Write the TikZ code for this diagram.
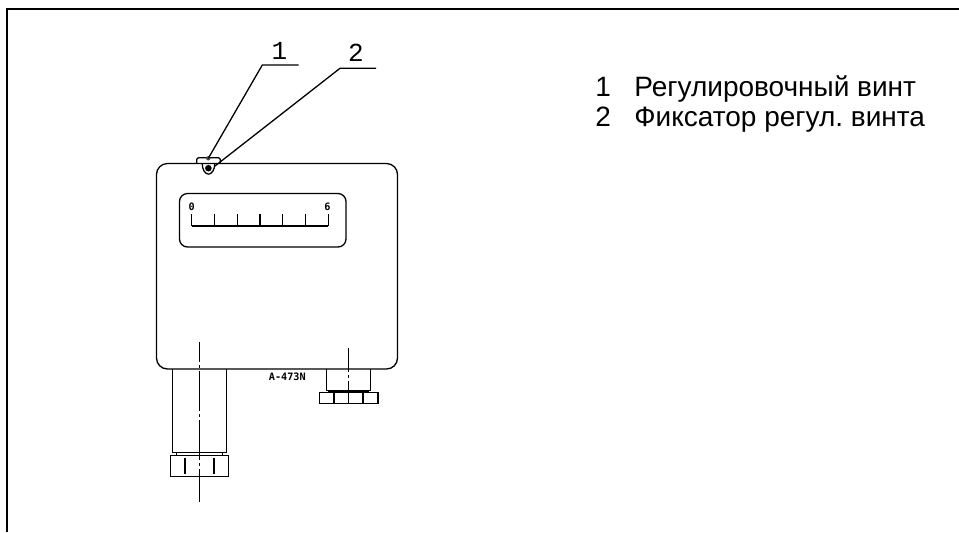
\documentclass[tikz,border=0pt]{standalone}
\usepackage{fontspec}
\setmainfont{Liberation Sans}
\newfontfamily\cadfont{Liberation Mono}
\newfontfamily\markfont{DejaVu Sans Mono}
\frenchspacing
\tikzset{
	part/.style={line width=0.65pt,color=black},
	axisline/.style={line width=0.6pt,color=black,dash pattern=on 20pt off 1.5pt on 1.5pt off 1.5pt},
	legendtext/.style={font=\fontsize{14}{16}\selectfont,anchor=base west,inner sep=0pt},
	leadertext/.style={font=\cadfont\fontsize{13}{15}\selectfont,anchor=base,inner sep=0pt},
	smalltext/.style={font=\markfont\bfseries\fontsize{5.1}{6}\selectfont,anchor=center,inner sep=0pt}
}
\begin{document}
\begin{tikzpicture}[x=0.5pt,y=-0.5pt]
	\useasboundingbox (0,0) rectangle (959,532);
	\draw[line width=1pt] (6.5,532) -- (6.5,8.5) -- (959,8.5);
	% body and window
	\draw[part,rounded corners=5.5pt] (156.5,163.5) rectangle (397.5,369);
	\draw[part,rounded corners=4pt] (179.5,193.5) rectangle (346,247);
	% scale
	\draw[line width=0.9pt] (191.7,226) -- (328.3,226);
	\foreach \x in {0,1,2,3,4,5,6}
	\draw[part,shift={(191.7+22.77*\x,0)}] (0,214) -- (0,226);
	\node[smalltext] (scalemin) at (191.8,207) {0};
	\node[smalltext] (scalemax) at (327.5,207) {6};
	% adjusting screw and clamp
	\draw[part,rounded corners=1pt] (196.7,163.5) -- (196.7,157.8) -- (220.3,157.8) -- (220.3,163.5);
	\draw[part] (202.2,163.5) arc (180:0:6.3 and 10.6);
	\fill (208.4,168.2) circle (3.3);
	\fill[black!70] (208.3,158.3) circle (2.2);
	% leaders
	\coordinate (screw) at (208.3,158.3);
	\coordinate (knee1) at (262.3,65);
	\coordinate (tail1) at (298.7,65);
	\coordinate (clamp) at (215,166);
	\coordinate (knee2) at (340,68.3);
	\coordinate (tail2) at (376,68.3);
	\draw[part] (screw) -- (knee1) -- (tail1);
	\draw[part] (clamp) -- (knee2) -- (tail2);
	\node[leadertext] (num1) at (279.3,59) {1};
	\node[leadertext] (num2) at (356,61) {2};
	% left fitting
	\draw[part] (172.7,369) -- (172.7,452.7) -- (226.3,452.7) -- (226.3,369);
	\draw[part] (170.3,455.3) rectangle (228.7,476.7);
	\foreach \x in {176.7,222.3}
	\draw[part] (\x,452.7) -- (\x,455.3);
	\foreach \x in {185,214}
	\draw[part] (\x,458) -- (\x,474);
	\draw[axisline,dash phase=10pt] (199.7,342.3) -- (199.7,502.3);
	% right fitting
	\draw[part] (326.3,369) -- (326.3,390.7) -- (370.7,390.7) -- (370.7,369);
	\draw[line width=1pt] (328,391.7) -- (369,391.7);
	\draw[part] (319.3,392.7) rectangle (378,403.3);
	\foreach \x in {334,363}
	\draw[part] (\x,392.7) -- (\x,403.3);
	\draw[part] (348.3,347.7) -- (348.3,371.5);
	\draw[part] (348.3,374.5) -- (348.3,377.5);
	\draw[part] (348.3,381) -- (348.3,403.3);
	\node[smalltext] (mark) at (287.3,377) {A-473N};
	% legend
	\node[legendtext] (item1) at (595,96) {1};
	\node[legendtext] (text1) at (634,96) {Регулировочный винт};
	\node[legendtext] (item2) at (595,126.5) {2};
	\node[legendtext] (text2) at (634,126.5) {Фиксатор регул. винта};
\end{tikzpicture}
\end{document}
